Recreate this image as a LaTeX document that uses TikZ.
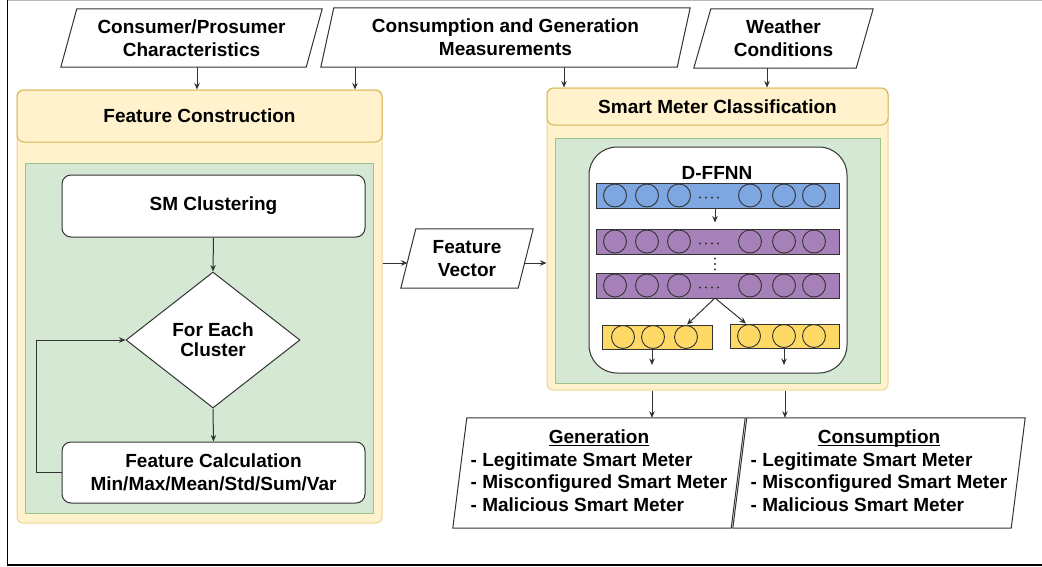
\documentclass[tikz,border=0pt]{standalone}
\usepackage{fontspec}
\setmainfont{Liberation Sans}
\usetikzlibrary{shapes.geometric,arrows.meta,calc}

\definecolor{panelfill}{HTML}{FFF2CC}
\definecolor{panelline}{HTML}{D6B656}
\definecolor{panelbodyline}{HTML}{EBD596}
\definecolor{greenfill}{HTML}{D5E8D4}
\definecolor{greenline}{HTML}{9CC48A}
\definecolor{inkline}{HTML}{333333}
\definecolor{layerblue}{HTML}{7EA6E0}
\definecolor{layerpurple}{HTML}{A680B8}
\definecolor{layeryellow}{HTML}{FFD966}

% slanted (data) box drawn around an existing node
\newcommand{\slantbox}[2]{%
  \draw[outline] ([xshift=#2pt]#1.north west) -- (#1.north east)
    -- ([xshift=-#2pt]#1.south east) -- (#1.south west) -- cycle;}
% underline just below the baseline, ignoring descenders
\newcommand{\baseul}[1]{\underline{\smash{#1}}}

\begin{document}
\begin{tikzpicture}[x=1pt,y=-1pt,
  font=\fontsize{19}{23}\selectfont\bfseries,
  arr/.style={draw=inkline, line width=1pt, -{Stealth[length=6.5pt,width=5.5pt]}},
  outline/.style={draw=inkline, line width=1pt},
  plain/.style={inner sep=0, align=center},
  panelbody/.style={fill=panelfill, draw=panelbodyline, line width=1pt, rounded corners=6pt, inner sep=0},
  panelhead/.style={fill=panelfill, draw=panelline, line width=1pt, rounded corners=7pt, inner sep=0, align=center},
  greenarea/.style={fill=greenfill, draw=greenline, line width=1pt, inner sep=0},
  stepbox/.style={fill=white, draw=inkline, line width=1pt, rounded corners=9pt, inner sep=0, align=center},
  layerbar/.style={draw=inkline, line width=0.9pt, inner sep=0},
  neuron/.style={draw=inkline, line width=0.9pt},
]
\useasboundingbox (0,0) rectangle (1042,566);

% page frame
\draw[gray!55, line width=1.5pt] (7.5,0.5) -- (1042,0.5);
\draw[black, line width=1.5pt] (7.5,0) -- (7.5,565) -- (1042,565);

% ---------- input data ----------
\node[plain, minimum width=261, minimum height=58] (src1) at (191.5,38) {Consumer/Prosumer\\Characteristics};
\slantbox{src1}{16}
\node[plain, minimum width=369, minimum height=59] (src2) at (505.5,37.5) {Consumption and Generation\\Measurements};
\slantbox{src2}{13}
\node[plain, minimum width=179, minimum height=59] (src3) at (783.5,38.5) {Weather\\Conditions};
\slantbox{src3}{17}

% ---------- feature construction ----------
\node[panelbody, minimum width=365, minimum height=433] (fcbody) at (199.5,306.5) {};
\node[panelhead, minimum width=365, minimum height=52] (fchead) at (199.5,116) {Feature Construction};
\node[greenarea, minimum width=348, minimum height=350] (fcgreen) at (199,338) {};

\node[stepbox, minimum width=303, minimum height=62] (clust) at (213.5,206) {SM Clustering};
\node[diamond, fill=white, draw=inkline, line width=1pt, inner sep=0, align=center,
      minimum width=174, minimum height=136] (each) at (213,340) {For Each\\[-3pt]Cluster};
\node[stepbox, minimum width=303, minimum height=61] (calc) at (213.5,472.5) {Feature Calculation\\Min/Max/Mean/Std/Sum/Var};

\draw[arr] (clust.south) -- (each.north);
\draw[arr] (each.south) -- (calc.north);
\draw[arr] (calc.west) -- ++(-25,0) |- (each.west);

% ---------- feature vector ----------
\node[plain, minimum width=132, minimum height=59] (fvec) at (467,258.5) {Feature\\Vector};
\slantbox{fvec}{15}

% ---------- smart meter classification ----------
\node[panelbody, minimum width=341, minimum height=302] (smbody) at (717.5,239) {};
\node[panelhead, minimum width=341, minimum height=37] (smhead) at (717.5,106.5) {Smart Meter Classification};
\node[greenarea, minimum width=325, minimum height=245] (smgreen) at (717.5,260.5) {};
\node[fill=white, draw=inkline, line width=1pt, rounded corners=28pt, inner sep=0,
      minimum width=258, minimum height=226] (dffnn) at (718,260) {};
\node[plain] (dtitle) at (717,173) {D-FFNN};

% network layers
\node[layerbar, fill=layerblue, minimum width=243, minimum height=25] (lin) at (717.5,195.5) {};
\node[layerbar, fill=layerpurple, minimum width=243, minimum height=25] (lh1) at (717.5,241.5) {};
\node[layerbar, fill=layerpurple, minimum width=243, minimum height=25] (lh2) at (717.5,285.5) {};
\node[layerbar, fill=layeryellow, minimum width=110, minimum height=24] (lgen) at (657,337) {};
\node[layerbar, fill=layeryellow, minimum width=109, minimum height=24] (lcon) at (784.5,336) {};

\foreach \yy/\cc in {195.5/layerblue, 241.5/layerpurple, 285.5/layerpurple}{
  \foreach \xx in {615,647,679,750,784,814}
    \draw[neuron, fill=\cc] (\xx,\yy) circle[radius=11.5pt];
  \foreach \xx in {700,706,712,718}
    \fill[inkline] (\xx,\yy+2) circle[radius=1.1pt];
}
\foreach \xx in {623,653,686}
  \draw[neuron, fill=layeryellow] (\xx,337) circle[radius=11.5pt];
\foreach \xx in {749,784,814}
  \draw[neuron, fill=layeryellow] (\xx,336) circle[radius=11.5pt];
\foreach \yy in {258.5,264,269.5}
  \fill[inkline] (715,\yy) circle[radius=1.1pt];

\coordinate (fork) at (715,298);
\draw[arr] ([xshift=-2.5pt]lin.south) -- ([xshift=-2.5pt,yshift=6pt]lh1.north);
\draw[arr] (fork) -- ([xshift=30pt]lgen.north);
\draw[arr] (fork) -- ([xshift=-38.5pt]lcon.north);
\coordinate (genout) at (652,365);
\coordinate (conout) at (784,365);
\draw[arr] (lgen.south -| genout) -- (genout);
\draw[arr] (lcon.south -| conout) -- (conout);

% ---------- outputs ----------
\node[plain, minimum width=292, minimum height=110] (gen) at (599,473)
  {\fontsize{19}{22.5}\selectfont\begin{tabular}{@{}l@{}}\multicolumn{1}{@{}c@{}}{\baseul{Generation}}\\- Legitimate Smart Meter\\- Misconfigured Smart Meter\\- Malicious Smart Meter\end{tabular}};
\slantbox{gen}{14}
\node[plain, minimum width=292, minimum height=110] (con) at (879,473)
  {\fontsize{19}{22.5}\selectfont\begin{tabular}{@{}l@{}}\multicolumn{1}{@{}c@{}}{\baseul{Consumption}}\\- Legitimate Smart Meter\\- Misconfigured Smart Meter\\- Malicious Smart Meter\end{tabular}};
\slantbox{con}{14}

% ---------- connectors ----------
\draw[arr] ([xshift=5.5pt]src1.south) -- ([xshift=5.5pt]src1.south |- fcbody.north);
\draw[arr] ([xshift=-150.5pt]src2.south) -- ([xshift=-150.5pt]src2.south |- fcbody.north);
\draw[arr] ([xshift=58.5pt]src2.south) -- ([xshift=58.5pt]src2.south |- smbody.north);
\draw[arr] ([xshift=-16.5pt]src3.south) -- ([xshift=-16.5pt]src3.south |- smbody.north);

\draw[arr] ([yshift=-4.5pt]fcbody.east |- fvec.center) -- ([xshift=-59.5pt,yshift=-4.5pt]fvec.center);
\draw[arr] ([xshift=57.5pt,yshift=-4.5pt]fvec.center) -- ([yshift=-4.5pt]smbody.west |- fvec.center);

\draw[arr] (smbody.south -| genout) -- (gen.north -| genout);
\draw[arr] (smbody.south -| 785,0) -- (con.north -| 785,0);
\end{tikzpicture}
\end{document}
